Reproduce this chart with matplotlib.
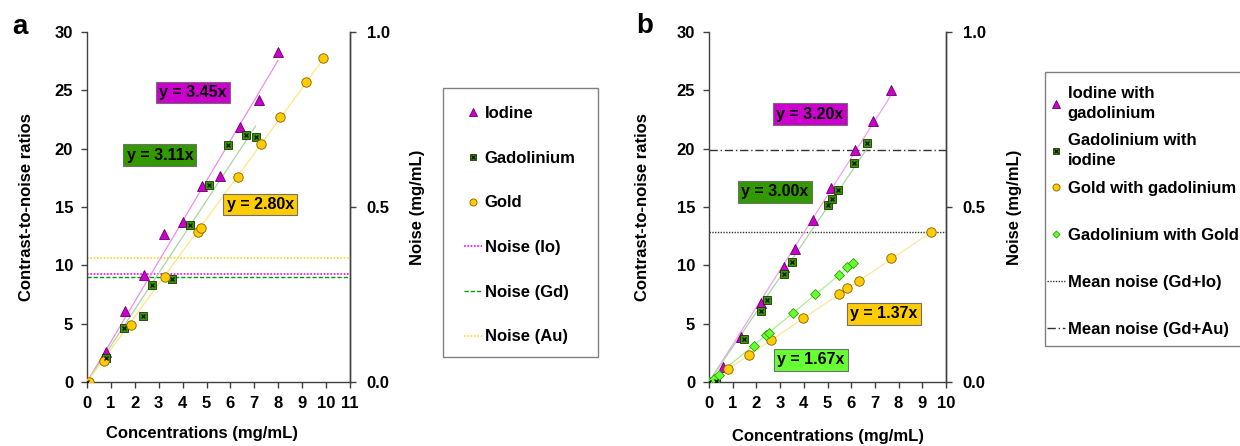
import matplotlib
matplotlib.use("Agg")
import matplotlib.pyplot as plt
from matplotlib.patches import Rectangle

plt.rcParams['font.family'] = ['Liberation Sans', 'DejaVu Sans']
plt.rcParams['font.weight'] = 'bold'
plt.rcParams['font.size'] = 12

# ---------------- Data: panel a ----------------
a_io_x = [0, 0.79, 1.60, 2.40, 3.20, 4.00, 4.79, 5.58, 6.39, 7.19, 7.99]
a_io_y = [0, 2.6, 6.1, 9.2, 12.7, 13.7, 16.8, 17.7, 21.9, 24.2, 28.3]
a_gd_x = [0, 0.79, 1.55, 2.33, 2.73, 3.54, 4.30, 5.10, 5.88, 6.64, 7.05]
a_gd_y = [0, 2.06, 4.66, 5.66, 8.31, 8.8, 13.5, 16.9, 20.3, 21.2, 21.0]
a_au_x = [0.1, 0.71, 1.82, 3.27, 4.64, 4.75, 6.30, 7.26, 8.08, 9.14, 9.86]
a_au_y = [0, 1.77, 4.9, 9.0, 12.9, 13.2, 17.6, 20.4, 22.7, 25.7, 27.8]
a_slopes = [3.45, 3.11, 2.80]
a_noise = {"Io": 0.310, "Gd": 0.301, "Au": 0.353}

# ---------------- Data: panel b ----------------
b_io_x = [0, 0.57, 1.35, 2.20, 3.15, 3.62, 4.37, 5.15, 6.14, 6.91, 7.68]
b_io_y = [0, 1.26, 3.9, 6.8, 9.9, 11.4, 13.9, 16.6, 19.9, 22.4, 25.06]
b_gd_x = [0, 0.28, 1.46, 2.20, 2.45, 3.16, 3.50, 5.01, 5.18, 5.43, 6.10, 6.65]
b_gd_y = [0, 0.06, 3.7, 6.1, 7.0, 9.3, 10.3, 15.2, 15.7, 16.5, 18.8, 20.5]
b_au_x = [0, 0.82, 1.67, 2.61, 3.96, 5.49, 5.84, 6.31, 7.66, 9.35]
b_au_y = [0, 1.14, 2.3, 3.57, 5.49, 7.57, 8.03, 8.63, 10.6, 12.86]
b_gdau_x = [0, 0.21, 0.43, 1.89, 2.41, 2.52, 3.53, 4.47, 5.49, 5.84, 6.09]
b_gdau_y = [0, 0.29, 0.63, 3.11, 4.06, 4.2, 5.89, 7.51, 9.2, 9.83, 10.23]
b_slopes = [3.20, 3.00, 1.37, 1.67]
b_noise = {"Gd+Io": 0.429, "Gd+Au": 0.662}

W, H = 1240, 446
fig = plt.figure(figsize=(W / 100, H / 100), dpi=100)

SPINE = '#404040'
MAG, GRN, GLD, LGR = '#CC00CC', '#339900', '#FFCC00', '#66FF33'


def fx(px):
    return px / W


def fy(py):
    return 1 - py / H


def style_axes(ax, axr, xmax, ylab_pad):
    ax.set_ylim(0, 30)
    ax.set_yticks(range(0, 31, 5))
    ax.set_xlim(0, xmax)
    ax.set_xticks(range(0, xmax + 1))
    axr.set_ylim(0, 1)
    axr.set_yticks([0, 0.5, 1.0])
    axr.set_yticklabels(['0.0', '0.5', '1.0'])
    for a in (ax, axr):
        for s in a.spines.values():
            s.set_color(SPINE)
            s.set_linewidth(1.0)
        a.tick_params(colors=SPINE, labelcolor='black', labelsize=12, length=4, width=1)
    ax.spines['top'].set_visible(False)
    axr.spines['top'].set_visible(False)
    axr.spines['left'].set_visible(False)
    axr.spines['bottom'].set_visible(False)
    ax.tick_params(axis='x', pad=6)
    ax.tick_params(axis='y', pad=6)
    axr.tick_params(axis='y', pad=8)
    ax.set_ylabel('Contrast-to-noise ratios', fontsize=12, fontweight='bold', labelpad=ylab_pad)
    axr.set_ylabel('Noise (mg/mL)', fontsize=12, fontweight='bold', labelpad=15)
    ax.set_xlabel('Concentrations (mg/mL)', fontsize=12, fontweight='bold', labelpad=13)


def fit_line(ax, xs, slope, color):
    xm = max(xs)
    ax.plot([0, xm], [0, slope * xm], color=color, lw=0.9, zorder=2)


def label_box(ax, x, y, slope, color):
    ax.text(x, y, f'y = {slope:.2f}x', ha='center', va='center', fontsize=11.5,
            fontweight='bold', zorder=6,
            bbox=dict(boxstyle='square,pad=0.2', facecolor=color, edgecolor='#707070', lw=0.8))


# ================= Panel a =================
ax = fig.add_axes([fx(87), fy(382), fx(350 - 87), (382 - 32) / H])
axr = ax.twinx()
ax.set_zorder(axr.get_zorder() + 1)
ax.patch.set_visible(False)

fit_line(ax, a_io_x, a_slopes[0], '#F08CF0')
fit_line(ax, a_gd_x, a_slopes[1], '#A8D8A0')
fit_line(ax, a_au_x, a_slopes[2], '#FFE680')

l_io, = ax.plot(a_io_x, a_io_y, ls='none', marker='^', ms=7, mfc=MAG, mec='#660066', mew=0.6, zorder=4)
l_gd, = ax.plot(a_gd_x, a_gd_y, ls='none', marker='s', ms=6, mfc=GRN, mec='#1A3300', mew=0.6, zorder=4)
l_gdx, = ax.plot(a_gd_x, a_gd_y, ls='none', marker='x', ms=3.5, mec='#1A1A1A', mew=1.0, zorder=5)
l_au, = ax.plot(a_au_x, a_au_y, ls='none', marker='o', ms=6.8, mfc=GLD, mec='#806000', mew=0.6, zorder=4)

n_io = axr.axhline(a_noise["Io"], color='#FF00FF', ls=(0, (1, 1)), lw=1.2)
n_gd = axr.axhline(a_noise["Gd"], color='#009900', ls=(0, (3, 1.5)), lw=1.0)
n_au = axr.axhline(a_noise["Au"], color='#FFD633', ls=(0, (1, 1)), lw=1.2)

style_axes(ax, axr, 11, 15)
ax.xaxis.set_label_coords((202 - 87) / (350 - 87), -0.125)

label_box(ax, 4.43, 24.8, a_slopes[0], MAG)
label_box(ax, 3.05, 19.45, a_slopes[1], GRN)
label_box(ax, 7.24, 15.2, a_slopes[2], GLD)

fig.text(fx(20), fy(27), 'a', fontsize=20, fontweight='bold', ha='center', va='center')

# legend a
fig.patches.append(Rectangle((fx(443), fy(357)), fx(598 - 443), (357 - 88) / H,
                             transform=fig.transFigure, facecolor='white',
                             edgecolor='#808080', lw=1.0, zorder=0))
fig.legend([l_io, (l_gd, l_gdx), l_au, n_io, n_gd, n_au],
           ['Iodine', 'Gadolinium', 'Gold', 'Noise (Io)', 'Noise (Gd)', 'Noise (Au)'],
           loc='upper left', bbox_to_anchor=(fx(464), fy(106)), frameon=False,
           borderpad=0, borderaxespad=0, handlelength=1.1, handletextpad=0.15,
           labelspacing=1.78, markerscale=0.75, fontsize=12)

# ================= Panel b =================
bx = fig.add_axes([fx(709), fy(382), fx(946 - 709), (382 - 32) / H])
bxr = bx.twinx()
bx.set_zorder(bxr.get_zorder() + 1)
bx.patch.set_visible(False)

fit_line(bx, b_io_x, b_slopes[0], '#F0A0F0')
fit_line(bx, b_gd_x, b_slopes[1], '#A8D8A0')
fit_line(bx, b_au_x, b_slopes[2], '#FFE699')
fit_line(bx, b_gdau_x, b_slopes[3], '#A8F090')

m_io, = bx.plot(b_io_x, b_io_y, ls='none', marker='^', ms=7, mfc=MAG, mec='#660066', mew=0.6, zorder=4)
m_gd, = bx.plot(b_gd_x, b_gd_y, ls='none', marker='s', ms=6, mfc=GRN, mec='#1A3300', mew=0.6, zorder=4)
m_gdx, = bx.plot(b_gd_x, b_gd_y, ls='none', marker='x', ms=3.5, mec='#1A1A1A', mew=1.0, zorder=5)
m_au, = bx.plot(b_au_x, b_au_y, ls='none', marker='o', ms=6.8, mfc=GLD, mec='#806000', mew=0.6, zorder=4)
m_ga, = bx.plot(b_gdau_x, b_gdau_y, ls='none', marker='D', ms=4.8, mfc=LGR, mec='#339900', mew=0.6, zorder=4)

nb1 = bxr.axhline(b_noise["Gd+Io"], color='#333333', ls=(0, (1, 1)), lw=1.0)
nb2 = bxr.axhline(b_noise["Gd+Au"], color='#333333', ls=(0, (6, 2, 1, 2)), lw=1.0)

style_axes(bx, bxr, 10, 19)

label_box(bx, 4.26, 22.96, b_slopes[0], MAG)
label_box(bx, 2.78, 16.3, b_slopes[1], GRN)
label_box(bx, 7.38, 5.83, b_slopes[2], GLD)
label_box(bx, 4.30, 1.89, b_slopes[3], LGR)

fig.text(fx(645), fy(26), 'b', fontsize=20, fontweight='bold', ha='center', va='center')

# legend b (frame + two stacked legends to match the row layout)
fig.patches.append(Rectangle((fx(1045), fy(346)), fx(1240 - 1045 + 20), (346 - 72) / H,
                             transform=fig.transFigure, facecolor='white',
                             edgecolor='#808080', lw=1.0, zorder=0))
leg_top = fig.legend([m_io, (m_gd, m_gdx)],
                     ['Iodine with\ngadolinium', 'Gadolinium with\niodine'],
                     loc='upper left', bbox_to_anchor=(fx(1047), fy(86)), frameon=False,
                     borderpad=0, borderaxespad=0, handlelength=1.1, handletextpad=0.15,
                     labelspacing=0.7, markerscale=0.75, fontsize=12)
for t in leg_top.get_texts():
    t.set_linespacing(1.45)
leg_bot = fig.legend([m_au, m_ga, nb1, nb2],
                     ['Gold with gadolinium', 'Gadolinium with Gold',
                      'Mean noise (Gd+Io)', 'Mean noise (Gd+Au)'],
                     loc='upper left', bbox_to_anchor=(fx(1047), fy(181)), frameon=False,
                     borderpad=0, borderaxespad=0, handlelength=1.1, handletextpad=0.15,
                     labelspacing=1.92, markerscale=0.75, fontsize=12)

fig.savefig('out.png', dpi=100)
